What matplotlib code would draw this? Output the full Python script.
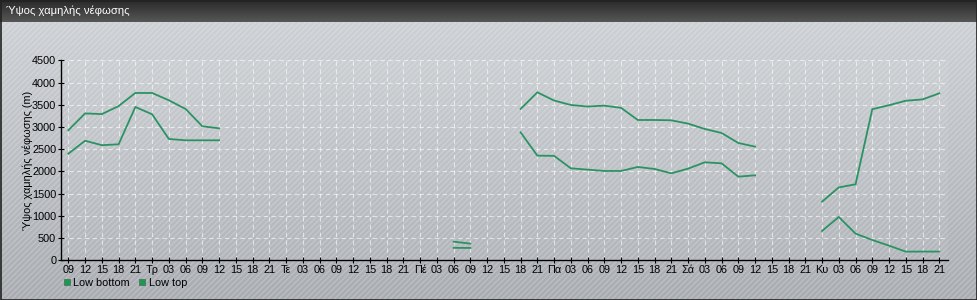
import numpy as np
import matplotlib
matplotlib.use("Agg")
import matplotlib.pyplot as plt
from matplotlib.patches import Rectangle
from matplotlib.lines import Line2D
from matplotlib.colors import LinearSegmentedColormap

plt.rcParams['font.family'] = ['Liberation Sans', 'DejaVu Sans']

nan = np.nan
title = "Ύψος χαμηλής νέφωσης"
ylabel = "Ύψος χαμηλής νέφωσης (m)"
series_names = ["Low bottom", "Low top"]
tick_labels = ["09", "12", "15", "18", "21",
               "Τρ", "03", "06", "09", "12", "15", "18", "21",
               "Τε", "03", "06", "09", "12", "15", "18", "21",
               "Πέ", "03", "06", "09", "12", "15", "18", "21",
               "Πα", "03", "06", "09", "12", "15", "18", "21",
               "Σά", "03", "06", "09", "12", "15", "18", "21",
               "Κυ", "03", "06", "09", "12", "15", "18", "21"]

low_top = [2925, 3305, 3290, 3470, 3765, 3765, 3600, 3405, 3015, 2970,
           nan, nan, nan, nan, nan, nan, nan, nan, nan, nan, nan, nan, nan,
           420, 375,
           nan, nan,
           3405, 3780, 3595, 3495, 3460, 3480, 3430, 3157, 3157, 3150, 3075, 2955, 2865, 2640, 2557,
           nan, nan, nan,
           1320, 1640, 1710, 3400, 3490, 3590, 3620, 3757]
low_bottom = [2400, 2690, 2590, 2610, 3450, 3285, 2730, 2700, 2700, 2700,
              nan, nan, nan, nan, nan, nan, nan, nan, nan, nan, nan, nan, nan,
              280, 278,
              nan, nan,
              2880, 2355, 2350, 2070, 2040, 2010, 2010, 2100, 2055, 1957, 2062, 2205, 2182, 1882, 1912,
              nan, nan, nan,
              660, 975, 600, 457, 330, 195, 196, 196]

W, H = 978, 300
fig = plt.figure(figsize=(W / 100, H / 100), dpi=100)

# background
bg = fig.add_axes([0, 0, 1, 1], zorder=-10)
bg.axis('off')
grad = np.linspace(0, 1, 256)[:, None]
cm = LinearSegmentedColormap.from_list('bg', ['#a9adb2', '#cdd1d5'])
bg.imshow(grad, extent=[0, W, 0, H - 22], origin='lower', cmap=cm, aspect='auto')
bg.add_patch(Rectangle((0, 0), W, H - 22, facecolor='none', edgecolor=(1, 1, 1, 0.2),
                       hatch='//////', linewidth=0))
cm2 = LinearSegmentedColormap.from_list('tb', ['#565656', '#2a2a2a'])
bg.imshow(grad, extent=[0, W, H - 22, H], origin='lower', cmap=cm2, aspect='auto')
bg.text(6, H - 11, title, color='white', fontsize=8.1, va='center', ha='left')
bg.add_patch(Rectangle((0.5, 0.5), W - 1.5, H - 1, facecolor='none', edgecolor='#222222', linewidth=1.2))
bg.set_xlim(0, W)
bg.set_ylim(0, H)

# main axes
left, right = 61 / W, 948 / W
bottom, top = (H - 260.3) / H, (H - 60.3) / H
ax = fig.add_axes([left, bottom, right - left, top - bottom])
ax.set_facecolor((1, 1, 1, 0.06))
x = np.arange(len(tick_labels))
color = '#2b9363'
ax.plot(x, low_bottom, color=color, linewidth=1.3)
ax.plot(x, low_top, color=color, linewidth=1.3)
ax.set_xlim(-0.44, 52.52)
ax.set_ylim(0, 4500)
ax.set_yticks(np.arange(0, 4501, 500))
ax.set_xticks(x)
ax.set_xticklabels(tick_labels)
ax.grid(True, color='white', linestyle=(0, (4, 3)), linewidth=0.8, alpha=0.6)
for s in ['top', 'right']:
    ax.spines[s].set_visible(False)
for s in ['left', 'bottom']:
    ax.spines[s].set_color('black')
    ax.spines[s].set_linewidth(1.0)
ax.tick_params(axis='both', direction='inout', length=5, width=0.8, colors='black',
               labelsize=7.8, pad=1)
ax.set_ylabel(ylabel, fontsize=7.8, labelpad=-1)

handles = [Line2D([], [], color='#1a9a50', marker='s', linestyle='none', markersize=5,
                  markeredgecolor='#4a6a55', markeredgewidth=0.5) for _ in series_names]
fig.legend(handles, series_names, loc='upper left', bbox_to_anchor=(54 / W, 1 - 270 / H),
           ncol=2, frameon=False, fontsize=7.8, handletextpad=0.1, columnspacing=0.6,
           borderpad=0.2, handlelength=1.0)

fig.savefig('out.png', dpi=100)
